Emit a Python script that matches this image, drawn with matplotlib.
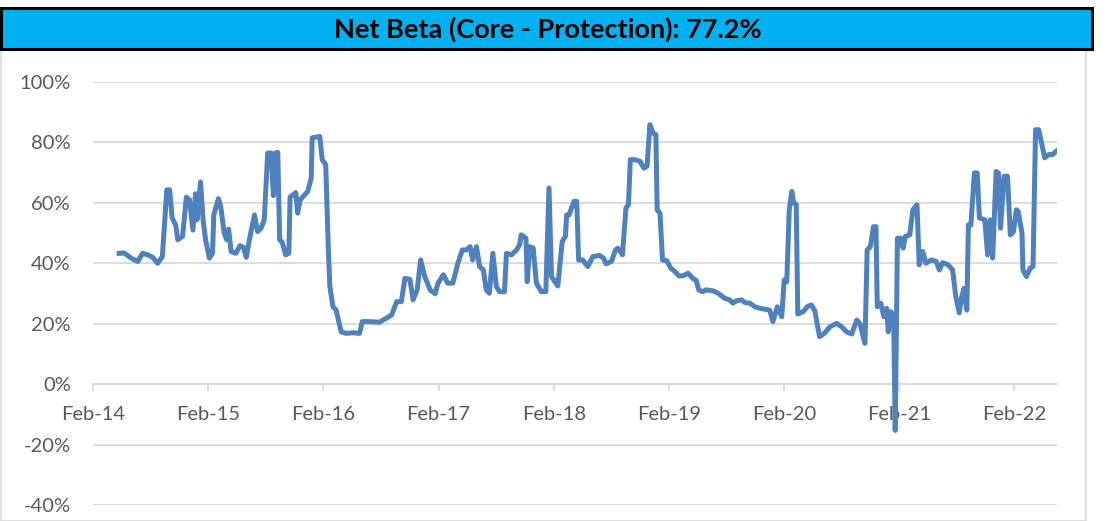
import pandas as pd
import matplotlib
matplotlib.use("Agg")
import matplotlib.pyplot as plt
import matplotlib.dates as mdates
from matplotlib.patches import Rectangle
from matplotlib.ticker import FuncFormatter

# Net beta readings (date, % value)
dates = [
    "2014-04-25", "2014-05-11", "2014-06-02", "2014-06-23", "2014-07-08", "2014-07-24", "2014-08-09", "2014-08-25",
    "2014-09-09", "2014-09-23", "2014-10-02", "2014-10-10", "2014-10-21", "2014-10-28", "2014-11-12", "2014-11-24",
    "2014-12-04", "2014-12-15", "2014-12-23", "2014-12-28", "2015-01-08", "2015-01-16", "2015-01-24", "2015-02-05",
    "2015-02-15", "2015-02-19", "2015-03-06", "2015-03-13", "2015-03-24", "2015-04-01", "2015-04-07", "2015-04-15",
    "2015-04-30", "2015-05-13", "2015-05-24", "2015-06-02", "2015-06-12", "2015-06-28", "2015-07-08", "2015-07-19",
    "2015-07-29", "2015-08-09", "2015-08-20", "2015-08-27", "2015-09-03", "2015-09-10", "2015-09-16", "2015-09-24",
    "2015-10-05", "2015-10-15", "2015-10-19", "2015-11-06", "2015-11-12", "2015-11-20", "2015-12-07", "2015-12-14",
    "2015-12-25", "2015-12-28", "2016-01-21", "2016-01-29", "2016-02-09", "2016-02-17", "2016-02-22", "2016-03-03",
    "2016-03-13", "2016-03-29", "2016-04-14", "2016-05-05", "2016-05-26", "2016-06-04", "2016-06-22", "2016-07-28",
    "2016-08-19", "2016-09-05", "2016-09-21", "2016-10-06", "2016-10-17", "2016-11-02", "2016-11-12", "2016-11-25",
    "2016-12-06", "2016-12-19", "2017-01-05", "2017-01-21", "2017-01-30", "2017-02-16", "2017-03-02", "2017-03-18",
    "2017-04-03", "2017-04-17", "2017-04-29", "2017-05-12", "2017-05-20", "2017-06-01", "2017-06-11", "2017-06-23",
    "2017-07-02", "2017-07-12", "2017-07-23", "2017-08-03", "2017-08-13", "2017-08-29", "2017-09-04", "2017-09-20",
    "2017-10-06", "2017-10-16", "2017-10-21", "2017-11-05", "2017-11-09", "2017-11-17", "2017-11-28", "2017-12-08",
    "2017-12-24", "2018-01-07", "2018-01-17", "2018-01-25", "2018-02-14", "2018-02-28", "2018-03-10", "2018-03-14",
    "2018-03-22", "2018-04-06", "2018-04-15", "2018-04-21", "2018-05-04", "2018-05-20", "2018-06-05", "2018-06-26",
    "2018-07-09", "2018-07-17", "2018-08-03", "2018-08-16", "2018-08-23", "2018-09-07", "2018-09-18", "2018-09-26",
    "2018-10-02", "2018-10-16", "2018-11-02", "2018-11-14", "2018-11-24", "2018-12-03", "2018-12-13", "2018-12-22",
    "2018-12-26", "2019-01-04", "2019-01-12", "2019-01-25", "2019-02-07", "2019-02-21", "2019-03-05", "2019-03-19",
    "2019-04-03", "2019-04-18", "2019-04-29", "2019-05-07", "2019-05-20", "2019-05-30", "2019-06-21", "2019-07-07",
    "2019-07-28", "2019-08-13", "2019-08-23", "2019-09-04", "2019-09-20", "2019-09-30", "2019-10-16", "2019-11-01",
    "2019-11-17", "2019-12-02", "2019-12-18", "2019-12-28", "2020-01-11", "2020-01-25", "2020-02-02", "2020-02-10",
    "2020-02-18", "2020-02-26", "2020-03-03", "2020-03-11", "2020-03-16", "2020-04-02", "2020-04-17", "2020-04-28",
    "2020-05-09", "2020-05-24", "2020-06-10", "2020-06-26", "2020-07-17", "2020-08-02", "2020-08-18", "2020-09-03",
    "2020-09-19", "2020-09-29", "2020-10-15", "2020-10-22", "2020-11-01", "2020-11-11", "2020-11-19", "2020-11-23",
    "2020-12-04", "2020-12-14", "2020-12-23", "2020-12-28", "2021-01-05", "2021-01-14", "2021-01-19", "2021-01-26",
    "2021-02-05", "2021-02-13", "2021-02-20", "2021-03-06", "2021-03-16", "2021-03-29", "2021-04-05", "2021-04-16",
    "2021-04-26", "2021-05-14", "2021-05-29", "2021-06-08", "2021-06-18", "2021-07-06", "2021-07-20", "2021-07-30",
    "2021-08-10", "2021-08-18", "2021-08-25", "2021-09-03", "2021-09-08", "2021-09-16", "2021-09-27", "2021-10-06",
    "2021-10-13", "2021-10-30", "2021-11-08", "2021-11-16", "2021-11-24", "2021-12-05", "2021-12-12", "2021-12-19",
    "2021-12-30", "2022-01-10", "2022-01-19", "2022-01-29", "2022-02-07", "2022-02-13", "2022-02-25", "2022-02-28",
    "2022-03-11", "2022-03-23", "2022-04-01", "2022-04-09", "2022-04-19", "2022-05-08", "2022-05-21", "2022-06-02",
    "2022-06-15",
]
net_beta = [
    43.3, 43.4, 41.7, 40.6, 43.3, 42.8, 42.0, 40.0,
    42.2, 64.3, 64.3, 55.0, 52.7, 47.8, 48.9, 61.9,
    61.0, 51.0, 63.0, 54.4, 66.9, 54.4, 47.8, 41.7,
    43.3, 56.0, 61.4, 58.8, 50.0, 47.8, 51.3, 43.9,
    43.3, 45.8, 45.3, 42.0, 47.8, 56.0, 50.5, 51.6,
    54.4, 76.5, 76.5, 62.4, 76.5, 76.7, 47.8, 46.9,
    42.8, 43.3, 61.9, 63.4, 56.6, 61.0, 63.0, 63.8,
    68.2, 81.5, 82.0, 74.3, 72.6, 45.5, 32.3, 25.6,
    24.5, 17.3, 16.8, 17.0, 16.8, 20.7, 20.7, 20.5,
    21.8, 22.9, 27.3, 27.3, 35.0, 34.7, 27.9, 31.2,
    41.1, 35.6, 31.2, 29.9, 33.4, 36.2, 33.4, 33.4,
    40.0, 44.4, 44.4, 45.5, 41.1, 45.5, 38.9, 37.8,
    31.2, 30.1, 43.3, 32.3, 30.6, 30.6, 43.3, 42.8,
    44.4, 46.1, 49.4, 48.3, 33.9, 45.5, 45.0, 33.4,
    30.6, 30.6, 64.9, 35.6, 32.5, 47.2, 48.9, 56.0,
    56.0, 60.5, 60.5, 41.1, 41.1, 38.9, 42.2, 42.6,
    41.7, 39.8, 40.6, 44.4, 45.0, 42.8, 58.3, 59.4,
    74.3, 74.3, 73.7, 71.5, 72.1, 85.9, 83.1, 82.6,
    57.7, 56.6, 41.1, 40.9, 38.4, 37.2, 35.8, 35.9,
    36.7, 35.0, 34.3, 31.2, 30.6, 31.2, 30.9, 30.1,
    28.4, 27.9, 26.8, 27.6, 27.9, 27.0, 26.8, 25.6,
    25.1, 24.8, 24.5, 20.7, 25.6, 22.3, 34.5, 33.9,
    57.7, 63.8, 60.0, 59.5, 23.2, 24.0, 25.8, 26.2,
    24.3, 15.7, 17.0, 19.0, 20.1, 19.0, 17.3, 16.6,
    21.2, 20.1, 13.5, 44.4, 45.5, 52.1, 52.1, 25.6,
    26.8, 22.3, 25.1, 17.3, 24.0, 22.3, -15.3, 48.3,
    48.3, 45.0, 48.9, 49.4, 57.7, 59.4, 39.5, 43.9,
    40.0, 41.1, 40.6, 37.8, 40.2, 39.5, 37.8, 29.0,
    23.6, 29.0, 31.7, 24.5, 52.7, 52.7, 69.9, 69.9,
    55.0, 54.4, 42.8, 54.4, 41.7, 70.4, 69.9, 51.6,
    68.8, 68.8, 49.4, 50.5, 57.7, 57.1, 50.0, 37.8,
    35.6, 38.4, 38.9, 84.2, 84.2, 74.9, 76.0, 76.0,
    77.2,
]
year_ticks = ["2014-02-01", "2015-02-01", "2016-02-01", "2017-02-01", "2018-02-01",
              "2019-02-01", "2020-02-01", "2021-02-01", "2022-02-01"]
y_ticks = [-40, -20, 0, 20, 40, 60, 80, 100]
title = "Net Beta (Core - Protection): 77.2%"

plt.rcParams['font.family'] = ['Lato', 'DejaVu Sans']

W, H = 1106, 521
fig = plt.figure(figsize=(W / 100, H / 100), dpi=100)

# chart frame and title banner
fig.patches.append(Rectangle((1 / W, 0), 1085 / W, (H - 50) / H, transform=fig.transFigure,
                             facecolor='none', edgecolor='#D9D9D9', lw=1.2, zorder=0))
fig.patches.append(Rectangle((1 / W, (H - 49) / H), 1091 / W, 41 / H, transform=fig.transFigure,
                             facecolor='#00B0F0', edgecolor='black', lw=2.2, zorder=1))
fig.text(548 / W, (H - 29) / H, title, ha='center', va='center', fontsize=19.5,
         fontweight='bold', color='black')

ax = fig.add_axes([93 / W, (H - 505) / H, (1057 - 93) / W, (505 - 82) / H])
ax.set_facecolor('none')
ax.set_zorder(2)

x = pd.to_datetime(dates)
ax.plot(x, net_beta, color='#4F81BD', lw=3.6, zorder=3, solid_joinstyle='round')

ax.set_ylim(-40, 100)
ax.set_xlim(pd.Timestamp("2014-02-01"), pd.Timestamp("2022-06-16"))
ax.set_yticks(y_ticks)
ax.yaxis.set_major_formatter(FuncFormatter(lambda v, p: f"{v:.0f}%"))
ax.set_xticks(pd.to_datetime(year_ticks))
ax.xaxis.set_major_formatter(mdates.DateFormatter("%b-%y"))

ax.grid(axis='y', color='#D9D9D9', lw=1.3)
ax.set_axisbelow(True)
for s in ['top', 'right', 'left']:
    ax.spines[s].set_visible(False)
ax.spines['bottom'].set_position(('data', 0))
ax.spines['bottom'].set_color('#D9D9D9')
ax.spines['bottom'].set_linewidth(1.3)

ax.tick_params(axis='y', length=0, pad=16, labelsize=14.5, labelcolor='#595959')
ax.tick_params(axis='x', direction='out', length=5, width=1.3, color='#D9D9D9',
               pad=11, labelsize=14.5, labelcolor='#595959')

fig.savefig("out.png", dpi=100)
